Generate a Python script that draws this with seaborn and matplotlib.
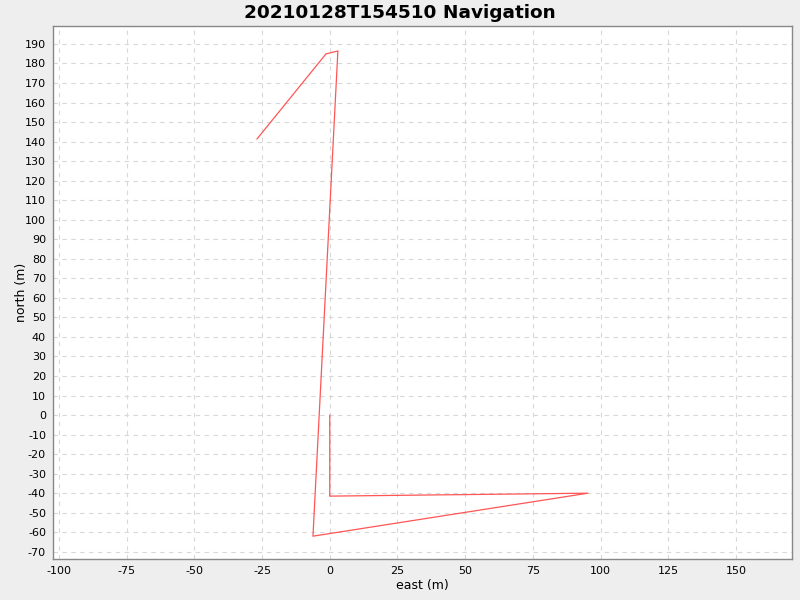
import numpy as np
import pandas as pd
import seaborn as sns
import matplotlib.pyplot as plt

# navigation track
east = [0.0, 0.0, 95.3, -6.2, 3.0, -1.4, -26.9]
north = [0.0, -41.5, -40.0, -62.0, 186.4, 184.9, 141.3]

df = pd.DataFrame({"east": east, "north": north, "step": range(len(east))})

sns.set_style("white")
plt.rcParams['font.family'] = ['DejaVu Sans']
plt.rcParams['axes.unicode_minus'] = False
plt.rcParams['text.color'] = 'black'
plt.rcParams['axes.labelcolor'] = 'black'
plt.rcParams['xtick.labelcolor'] = 'black'
plt.rcParams['ytick.labelcolor'] = 'black'

fig = plt.figure(figsize=(8, 6), dpi=100, facecolor="#eeeeee")
ax = fig.add_axes([0.06625, 0.0683, 0.92375, 0.8884])
ax.set_facecolor("white")

sns.lineplot(data=df, x="east", y="north", sort=False, estimator=None,
             color="#ff5555", linewidth=0.9, ax=ax)

ax.set_xlim(-102.2, 170.7)
ax.set_ylim(-73.7, 199.2)
ax.set_xticks(np.arange(-100, 151, 25))
ax.set_yticks(np.arange(-70, 191, 10))
ax.grid(True, color="#d8d8d8", linestyle=(0, (4, 4)), linewidth=0.8)

for s in ax.spines.values():
    s.set_color("#888888")
    s.set_linewidth(1)
ax.tick_params(axis="both", which="major", labelsize=8, direction="out",
               length=3, width=0.8, color="#888888", pad=2)

ax.set_xlabel("east (m)", fontsize=9, labelpad=2.5)
ax.set_ylabel("north (m)", fontsize=9, labelpad=-2)
fig.suptitle("20210128T154510 Navigation", fontsize=13.3, fontweight="bold",
             y=0.993, va="top")

fig.savefig("out.png", dpi=100, facecolor=fig.get_facecolor())
plt.close(fig)
